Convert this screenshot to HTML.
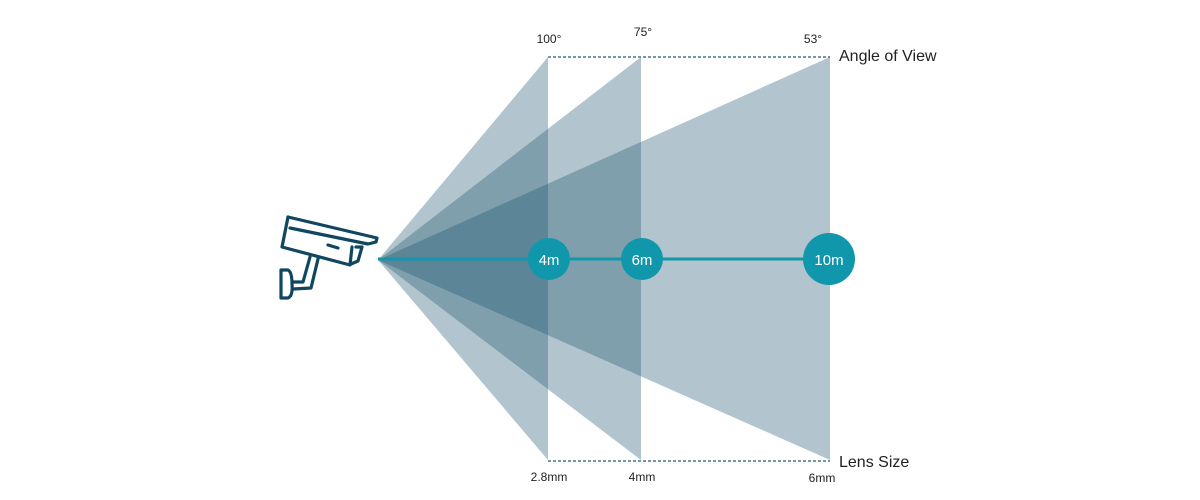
<!DOCTYPE html>
<html><head><meta charset="utf-8"><style>
html,body{margin:0;padding:0;background:#fff;}
svg{display:block}
text{font-family:"Liberation Sans",sans-serif;}
</style></head><body>
<svg width="1200" height="500" viewBox="0 0 1200 500" xmlns="http://www.w3.org/2000/svg">
<g fill="rgb(30,85,110)" fill-opacity="0.34">
<polygon points="378,260 548,57 548,460"/>
<polygon points="378,260 641,57 641,460"/>
<polygon points="378,260 830,57 830,460"/>
</g>
<g stroke="#1e5a78" stroke-width="1.3" stroke-dasharray="3,2">
<line x1="548" y1="57" x2="830" y2="57"/>
<line x1="548" y1="461" x2="830" y2="461"/>
</g>
<line x1="378" y1="259" x2="830" y2="259" stroke="#1197ab" stroke-width="3"/>
<g fill="#1197ab">
<circle cx="549" cy="259" r="21"/>
<circle cx="642" cy="259" r="21"/>
<circle cx="829" cy="259" r="26"/>
</g>
<g fill="#fff" font-size="15" text-anchor="middle">
<text x="549" y="265">4m</text>
<text x="642" y="265">6m</text>
<text x="829" y="265">10m</text>
</g>
<g fill="#222" font-size="12" text-anchor="middle">
<text x="549" y="43">100°</text>
<text x="643" y="36">75°</text>
<text x="813" y="43">53°</text>
<text x="549" y="481">2.8mm</text>
<text x="642" y="481">4mm</text>
<text x="822" y="482">6mm</text>
</g>
<g fill="#222" font-size="16">
<text x="839" y="61">Angle of View</text>
<text x="839" y="467">Lens Size</text>
</g>
<g fill="none" stroke="#0f4660" stroke-width="3.2" stroke-linejoin="round" stroke-linecap="round">
<path d="M288,217 L377,238 L376,242 L368,244 L290,228"/>
<path d="M288,217 L282,247 L350,265 L352,247"/>
<path d="M356,247 L362,247 L358,261 L351,264"/>
<line x1="328" y1="245" x2="338" y2="248"/>
<path d="M310,257 L303,282 L293,282"/>
<path d="M318,259 L311,288 L293,289"/>
<path d="M288,270 L281,270 L281,298 L288,298 Q293,296 292,284 Q292,272 288,270 Z"/>
</g>
</svg>
</body></html>
